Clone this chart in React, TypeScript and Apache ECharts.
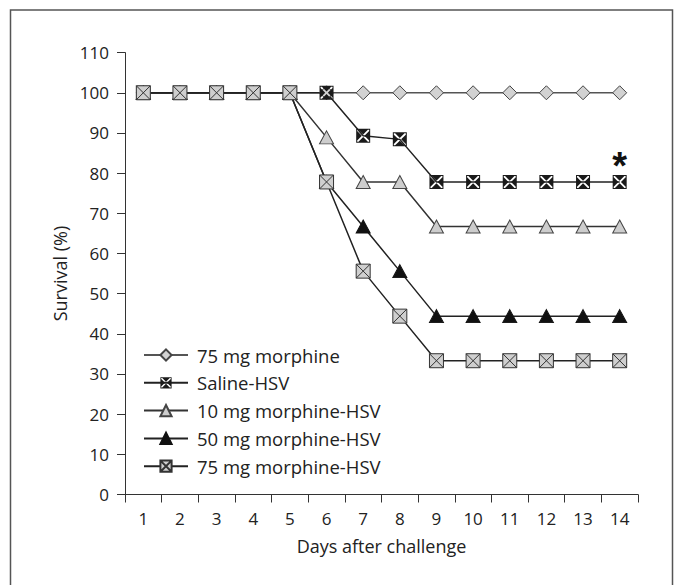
import React, { useEffect, useRef } from "react";
import * as echarts from "echarts";

const days = ["1", "2", "3", "4", "5", "6", "7", "8", "9", "10", "11", "12", "13", "14"];
const morphine75 = [100, 100, 100, 100, 100, 100, 100, 100, 100, 100, 100, 100, 100, 100];
const salineHSV = [100, 100, 100, 100, 100, 100, 89.3, 88.4, 77.8, 77.8, 77.8, 77.8, 77.8, 77.8];
const morphine10HSV = [100, 100, 100, 100, 100, 88.9, 77.8, 77.8, 66.7, 66.7, 66.7, 66.7, 66.7, 66.7];
const morphine50HSV = [100, 100, 100, 100, 100, 77.8, 66.7, 55.6, 44.4, 44.4, 44.4, 44.4, 44.4, 44.4];
const morphine75HSV = [100, 100, 100, 100, 100, 77.8, 55.6, 44.4, 33.3, 33.3, 33.3, 33.3, 33.3, 33.3];
const seriesNames = ["75 mg morphine", "Saline-HSV", "10 mg morphine-HSV", "50 mg morphine-HSV", "75 mg morphine-HSV"];
const yTicks = { min: 0, max: 110, interval: 10 };

const FONT = "'Open Sans', 'DejaVu Sans', sans-serif";
const SQ_X_GRAY = "path://M0,0H14V14H0Z M0,0L14,14 M14,0L0,14";
const SQ_X_BLACK =
  "path://M0,0H14V1H0Z M0,13H14V14H0Z M0,1H1V13H0Z M13,1H14V13H13Z M2.3,1L11.7,1L7,5.7Z M13,2.3L13,11.7L8.3,7Z M11.7,13L2.3,13L7,8.3Z M1,11.7L1,2.3L5.7,7Z";

export default function App() {
  const ref = useRef<HTMLDivElement>(null);
  useEffect(() => {
    if (!ref.current) return;
    const chart = echarts.init(ref.current, null, { renderer: "svg" });
    const lineBase = (name: string, data: any[], lineColor: string) => ({
      name,
      type: "line",
      data,
      lineStyle: { color: lineColor, width: 1.5 },
      emphasis: { disabled: true },
    });
    const salineData = salineHSV.map((v, i) =>
      i === salineHSV.length - 1
        ? {
            value: v,
            label: {
              show: true,
              formatter: "*",
              position: "top",
              distance: -10,
              fontSize: 38,
              fontWeight: "bold",
              color: "#111",
              fontFamily: "'Liberation Sans', sans-serif",
            },
          }
        : v
    );
    chart.setOption({
      animation: false,
      textStyle: { fontFamily: FONT },
      graphic: [
        {
          type: "rect",
          shape: { x: 10.5, y: 10, width: 662, height: 620 },
          style: { fill: "none", stroke: "#555", lineWidth: 1.5 },
          silent: true,
        },
      ],
      grid: { left: 125, right: 36, top: 52.6, bottom: 90.5 },
      legend: {
        orient: "vertical",
        left: 143,
        top: 345.5,
        padding: 0,
        itemWidth: 44,
        itemHeight: 14,
        itemGap: 8.8,
        data: seriesNames,
        textStyle: {
          fontFamily: FONT,
          fontSize: 18.5,
          color: "#222",
          padding: [0, 0, 0, 4],
        },
      },
      xAxis: {
        type: "category",
        data: days,
        boundaryGap: true,
        name: "Days after challenge",
        nameLocation: "middle",
        nameGap: 42,
        nameTextStyle: { fontFamily: FONT, fontSize: 18, color: "#222" },
        axisLine: { lineStyle: { color: "#333", width: 1 } },
        axisTick: { show: true, length: 8, alignWithLabel: false, lineStyle: { color: "#333" } },
        axisLabel: { fontFamily: FONT, fontSize: 17, color: "#222", margin: 15 },
        splitLine: { show: false },
      },
      yAxis: {
        type: "value",
        min: yTicks.min,
        max: yTicks.max,
        interval: yTicks.interval,
        name: "Survival (%)",
        nameLocation: "middle",
        nameGap: 56,
        nameRotate: 90,
        nameTextStyle: { fontFamily: FONT, fontSize: 18, color: "#222" },
        axisLine: { show: true, lineStyle: { color: "#333", width: 1 } },
        axisTick: { show: true, length: 8, lineStyle: { color: "#333" } },
        axisLabel: { fontFamily: FONT, fontSize: 17, color: "#222", margin: 16 },
        splitLine: { show: false },
      },
      series: [
        {
          ...lineBase(seriesNames[0], morphine75, "#555"),
          symbol: "diamond",
          symbolSize: [14, 14],
          itemStyle: { color: "#d2d2d2", borderColor: "#444", borderWidth: 1 },
        },
        {
          ...lineBase(seriesNames[1], salineData, "#222"),
          symbol: SQ_X_BLACK,
          symbolSize: [14, 14],
          itemStyle: { color: "#1a1a1a", borderColor: "#1a1a1a", borderWidth: 0 },
        },
        {
          ...lineBase(seriesNames[2], morphine10HSV, "#333"),
          symbol: "triangle",
          symbolSize: [14, 13],
          itemStyle: { color: "#cdcdcd", borderColor: "#444", borderWidth: 1 },
        },
        {
          ...lineBase(seriesNames[3], morphine50HSV, "#222"),
          symbol: "triangle",
          symbolSize: [14, 13],
          itemStyle: { color: "#111", borderColor: "#111", borderWidth: 1 },
        },
        {
          ...lineBase(seriesNames[4], morphine75HSV, "#222"),
          symbol: SQ_X_GRAY,
          symbolSize: [14, 14],
          itemStyle: { color: "#cfcfcf", borderColor: "#333", borderWidth: 1 },
        },
      ],
    });
    return () => chart.dispose();
  }, []);
  return (
    <div
      ref={ref}
      style={{ position: "fixed", left: 0, top: 0, width: 674, height: 585, background: "#fff" }}
    />
  );
}
